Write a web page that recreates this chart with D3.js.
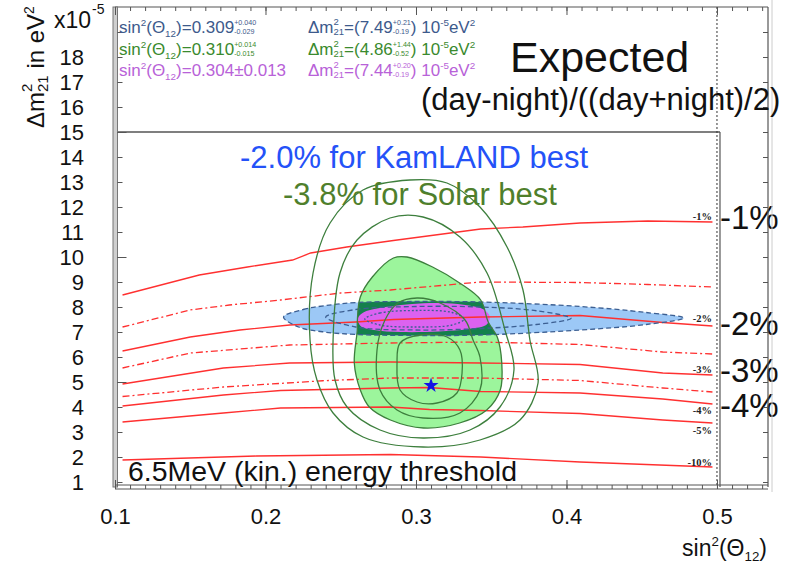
<!DOCTYPE html>
<html>
<head>
<meta charset="utf-8">
<script src="https://cdn.jsdelivr.net/npm/d3@7/dist/d3.min.js"></script>
<style>
html,body{margin:0;padding:0;background:#fff;}
text{font-family:"Liberation Sans",Arial,Helvetica,sans-serif;white-space:pre;}
</style>
</head>
<body>
<svg id="chart" width="807" height="573"></svg>
<script>
// ---------------- values ----------------
const sin2Ticks = [0.1, 0.2, 0.3, 0.4, 0.5];
const dm2Ticks = [1, 2, 3, 4, 5, 6, 7, 8, 9, 10, 11, 12, 13, 14, 15, 16, 17, 18];

// expected day-night asymmetry iso-lines: [sin²θ12, Δm²21 (1e-5 eV²)]
const dnM1  = [[0.105,8.48],[0.156,9.28],[0.188,9.6],[0.218,9.88],[0.23,10.16],[0.254,10.4],[0.285,10.66],[0.343,11.12],[0.371,11.2],[0.409,11.36],[0.454,11.44],[0.497,11.4]];
const dnM15 = [[0.105,7.2],[0.15,7.88],[0.176,8.08],[0.21,8.28],[0.25,8.56],[0.283,8.68],[0.343,9.0],[0.409,8.98],[0.454,8.9],[0.497,8.8]];
const dnM2  = [[0.105,6.24],[0.15,6.8],[0.183,7.08],[0.216,7.28],[0.26,7.4],[0.285,7.5],[0.343,7.6],[0.409,7.66],[0.464,7.38],[0.497,7.24]];
const dnM25 = [[0.105,5.56],[0.15,6.16],[0.216,6.48],[0.283,6.56],[0.343,6.6],[0.409,6.5],[0.464,6.2],[0.497,6.12]];
const dnM3  = [[0.105,4.92],[0.172,5.56],[0.216,5.76],[0.283,5.8],[0.343,5.76],[0.409,5.7],[0.464,5.36],[0.497,5.28]];
const dnM35 = [[0.105,4.42],[0.172,4.8],[0.238,5.05],[0.283,5.16],[0.343,5.16],[0.409,5.06],[0.464,4.76],[0.497,4.6]];
const dnM4  = [[0.105,4.04],[0.172,4.48],[0.21,4.66],[0.283,4.76],[0.309,4.78],[0.343,4.62],[0.409,4.56],[0.464,4.32],[0.497,4.12]];
const dnM5  = [[0.105,3.4],[0.172,3.76],[0.21,3.96],[0.283,4.0],[0.309,3.9],[0.343,3.86],[0.409,3.74],[0.464,3.48],[0.497,3.36]];
const dnM10 = [[0.105,1.88],[0.194,2.04],[0.283,2.1],[0.343,2.0],[0.409,1.8],[0.497,1.6]];

const solidLines  = [dnM1, dnM2, dnM3, dnM4, dnM5, dnM10];
const solidNames  = ["-1%", "-2%", "-3%", "-4%", "-5%", "-10%"];
const solidLabelDm = [11.48, 7.4, 5.36, 3.72, 2.92, 1.64];
const halfLines   = [dnM15, dnM25, dnM35];

// large side labels
const bigNames = ["-1%", "-2%", "-3%", "-4%"];
const bigDm    = [11.12, 6.88, 5.0, 3.6];

// KamLAND allowed region (outer, middle, inner contours)
const kamOuter = [[0.212,7.6],[0.225,7.9],[0.239,8.05],[0.261,8.18],[0.3,8.22],[0.343,8.2],[0.409,8.02],[0.453,7.78],[0.478,7.56],[0.453,7.3],[0.409,7.08],[0.343,6.88],[0.3,6.86],[0.261,6.9],[0.239,7.0],[0.222,7.2]];
const kamMiddle = [[0.24,7.6],[0.26,7.9],[0.3,8.02],[0.343,8.0],[0.38,7.85],[0.403,7.55],[0.38,7.3],[0.343,7.14],[0.3,7.08],[0.26,7.2]];
const kamInner = [[0.266,7.52],[0.276,7.76],[0.3,7.86],[0.324,7.78],[0.332,7.52],[0.324,7.28],[0.3,7.2],[0.276,7.28]];

// solar allowed region (filled) and solar contours
const solarFill = [[0.294,10.0],[0.311,9.6],[0.329,8.96],[0.343,8.28],[0.348,7.4],[0.354,6.8],[0.357,5.76],[0.356,4.68],[0.347,3.88],[0.329,3.36],[0.305,3.16],[0.283,3.48],[0.269,4.0],[0.263,4.68],[0.259,5.76],[0.261,7.08],[0.261,7.4],[0.263,8.4],[0.271,9.2],[0.285,9.96]];
const solarC1 = [[0.2296,6.68],[0.2316,9.36],[0.2429,11.36],[0.2648,12.68],[0.296,13.08],[0.3206,12.96],[0.3425,12.0],[0.3605,10.4],[0.3711,8.68],[0.3757,6.68],[0.3811,4.96],[0.3691,3.48],[0.3425,2.68],[0.3047,2.4],[0.2648,2.8],[0.2449,3.76],[0.2342,5.08]];
const solarC2 = [[0.2449,6.68],[0.2495,9.36],[0.2608,10.68],[0.2827,11.56],[0.3047,11.6],[0.3292,10.8],[0.3472,9.36],[0.3591,7.08],[0.3651,5.48],[0.3558,4.0],[0.3359,3.08],[0.3047,2.76],[0.2761,3.08],[0.2542,4.0],[0.2462,5.08]];
const solarC3 = [[0.3007,8.36],[0.316,8.16],[0.3326,7.48],[0.3379,6.68],[0.3425,6.0],[0.3425,4.68],[0.3292,3.76],[0.3047,3.56],[0.2874,3.88],[0.2761,4.68],[0.2741,6.28],[0.2794,7.48],[0.288,8.16]];
const solarC4 = [[0.3027,6.88],[0.3206,6.8],[0.3292,6.28],[0.3306,5.36],[0.3272,4.56],[0.314,4.16],[0.3007,4.2],[0.2894,4.68],[0.2874,5.76],[0.2894,6.56]];

// combined region
const combined = [[0.2615,7.56],[0.265,7.78],[0.275,7.95],[0.29,8.08],[0.305,8.15],[0.32,8.15],[0.335,8.06],[0.345,7.9],[0.349,7.62],[0.347,7.3],[0.335,7.12],[0.315,7.02],[0.29,7.0],[0.272,7.08],[0.263,7.25]];

// solar best fit point
const solarBest = [0.310, 4.86];

// ---------------- drawing ----------------
const svg = d3.select("#chart");
const x = d3.scaleLinear().domain([0.1, 0.5339]).range([115, 768]);
const y = d3.scaleLinear().domain([0.8, 20]).range([487, 7]);

const defs = svg.append("defs");
defs.append("clipPath").attr("id", "plotClip").append("rect")
  .attr("x", x(0.1)).attr("y", y(15))
  .attr("width", x(0.5) - x(0.1)).attr("height", y(0.8) - y(15));

const closed = d3.line().x(d => x(d[0])).y(d => y(d[1])).curve(d3.curveCatmullRomClosed.alpha(0.5));
const open = d3.line().x(d => x(d[0])).y(d => y(d[1]));

defs.append("clipPath").attr("id", "solarClip").append("path").attr("d", closed(solarFill));

const plot = svg.append("g").attr("clip-path", "url(#plotClip)");

// filled regions
plot.append("path").attr("d", closed(solarFill)).attr("fill", "#9cf59c");
plot.append("path").attr("d", closed(kamOuter)).attr("fill", "#9cc8f6");
plot.append("g").attr("clip-path", "url(#solarClip)")
  .append("path").attr("d", closed(kamOuter)).attr("fill", "#14804c");
plot.append("path").attr("d", closed(combined)).attr("fill", "#dc62f0");

// day-night iso-lines
plot.selectAll("path.solid").data(solidLines).join("path").attr("class", "solid")
  .attr("d", open).attr("fill", "none").attr("stroke", "#ff3030").attr("stroke-width", 1.3);
plot.selectAll("path.half").data(halfLines).join("path").attr("class", "half")
  .attr("d", open).attr("fill", "none").attr("stroke", "#ff3030").attr("stroke-width", 1.3)
  .attr("stroke-dasharray", "7,3,2,3");

// KamLAND dashed contours
plot.selectAll("path.kam").data([kamOuter, kamMiddle, kamInner]).join("path").attr("class", "kam")
  .attr("d", closed).attr("fill", "none").attr("stroke", "#3c5f92").attr("stroke-width", 1.3)
  .attr("stroke-dasharray", (d, i) => i === 2 ? "2,2" : "5,3");

// solar contours
plot.selectAll("path.sol").data([solarFill, solarC1, solarC2, solarC3, solarC4]).join("path").attr("class", "sol")
  .attr("d", closed).attr("fill", "none").attr("stroke", "#3d7f3d").attr("stroke-width", 1.3);

// best-fit star
plot.append("path").attr("d", d3.symbol(d3.symbolStar, 70)())
  .attr("transform", `translate(${x(solarBest[0])},${y(solarBest[1])})`).attr("fill", "#1414e6");

// small iso-line labels
svg.selectAll("text.iso").data(solidNames).join("text").attr("class", "iso")
  .attr("x", x(0.4967)).attr("y", (d, i) => y(solidLabelDm[i]))
  .attr("text-anchor", "end").attr("font-size", 10.5).attr("font-weight", "bold")
  .style("font-family", "'Liberation Serif','Times New Roman',serif").attr("fill", "#222").text(d => d);

// large side labels
svg.selectAll("text.big").data(bigNames).join("text").attr("class", "big")
  .attr("x", x(0.502)).attr("y", (d, i) => y(bigDm[i]))
  .attr("font-size", 33).attr("fill", "#111").text(d => d);

// ---------------- frames and axes ----------------
const frame = svg.append("g");
// outer frame top / right
frame.append("line").attr("x1", x(0.1)).attr("x2", x(0.5339)).attr("y1", y(20)).attr("y2", y(20)).attr("stroke", "#555").attr("stroke-width", 1.2);
frame.append("line").attr("x1", x(0.5339)).attr("x2", x(0.5339)).attr("y1", y(20)).attr("y2", y(0.8)).attr("stroke", "#555").attr("stroke-width", 1.2);
frame.append("line").attr("x1", 772).attr("x2", 772).attr("y1", 0).attr("y2", 492).attr("stroke", "#ccc").attr("stroke-width", 1);
// inner panel
frame.append("line").attr("x1", x(0.1)).attr("x2", x(0.502)).attr("y1", y(15)).attr("y2", y(15)).attr("stroke", "#555").attr("stroke-width", 1.4);
frame.append("line").attr("x1", x(0.502)).attr("x2", x(0.502)).attr("y1", y(15)).attr("y2", y(0.8)).attr("stroke", "#555").attr("stroke-width", 1.2);
frame.append("line").attr("x1", x(0.5)).attr("x2", x(0.5)).attr("y1", y(20)).attr("y2", y(0.8)).attr("stroke", "#333").attr("stroke-width", 1).attr("stroke-dasharray", "2,2");
// left double rule
frame.append("rect").attr("x", 113).attr("y", y(20)).attr("width", 4.5).attr("height", y(0.8) - y(20)).attr("fill", "#cfcfcf").attr("stroke", "#777").attr("stroke-width", 1);

const minorX = d3.range(0.1, 0.5339, 0.01);
const tickStyle = g => { g.selectAll("line").attr("stroke", "#555"); g.select(".domain").remove(); };
// top ticks
frame.append("g").attr("transform", `translate(0,${y(20)})`).call(d3.axisBottom(x).tickValues(minorX).tickSize(4).tickFormat("")).call(tickStyle);
frame.append("g").attr("transform", `translate(0,${y(20)})`).call(d3.axisBottom(x).tickValues(sin2Ticks).tickSize(8).tickFormat("")).call(tickStyle);
// bottom ladder
frame.append("line").attr("x1", x(0.1)).attr("x2", x(0.5339)).attr("y1", 485).attr("y2", 485).attr("stroke", "#555");
frame.append("line").attr("x1", x(0.1)).attr("x2", x(0.5339)).attr("y1", 489).attr("y2", 489).attr("stroke", "#555");
frame.append("g").attr("transform", "translate(0,489)").call(d3.axisTop(x).tickValues(minorX).tickSize(4).tickFormat("")).call(tickStyle);
frame.append("g").attr("transform", "translate(0,489)").call(d3.axisTop(x).tickValues(sin2Ticks).tickSize(9).tickFormat("")).call(tickStyle);
// left / right ticks
const allDm = d3.range(1, 20);
frame.append("g").attr("transform", "translate(117.5,0)").call(d3.axisRight(y).tickValues(allDm).tickSize(5).tickFormat("")).call(tickStyle);
frame.append("g").attr("transform", "translate(117.5,0)").call(d3.axisRight(y).tickValues([5, 10, 15]).tickSize(9).tickFormat("")).call(tickStyle);
frame.append("g").attr("transform", `translate(${x(0.5339)},0)`).call(d3.axisLeft(y).tickValues(allDm).tickSize(5).tickFormat("")).call(tickStyle);

// tick labels
const yLab = svg.append("g").attr("transform", "translate(84,0)")
  .call(d3.axisLeft(y).tickValues(dm2Ticks).tickSize(0).tickPadding(0).tickFormat(d3.format("d")));
yLab.select(".domain").remove();
yLab.selectAll("text").attr("font-size", 22).attr("fill", "#111").style("font-family", "'Liberation Sans',Arial,sans-serif").attr("dy", "0.36em");

const xLab = svg.append("g").attr("transform", "translate(0,508)")
  .call(d3.axisBottom(x).tickValues(sin2Ticks).tickSize(0).tickPadding(0).tickFormat(d3.format(".1f")));
xLab.select(".domain").remove();
xLab.selectAll("text").attr("font-size", 22).attr("fill", "#111").style("font-family", "'Liberation Sans',Arial,sans-serif");

// ---------------- rich text helper ----------------
function rich(parent, x0, y0, size, color, segs, rot) {
  const g = parent.append("g").attr("transform", `translate(${x0},${y0})` + (rot ? ` rotate(${rot})` : "")).attr("fill", color);
  let cx = 0;
  const put = (txt, dy, fs) => {
    const t = g.append("text").attr("x", cx).attr("y", dy).attr("font-size", fs).text(txt);
    return t.node().getComputedTextLength();
  };
  for (const s of segs) {
    if (typeof s === "string") { cx += put(s, 0, size); }
    else if (s.hi !== undefined) {
      const fs = s.fs || size * 0.42;
      const a = put(s.hi, s.hiDy !== undefined ? s.hiDy : -size * 0.45, fs);
      const b = put(s.lo, s.loDy !== undefined ? s.loDy : size * 0.05, fs);
      cx += Math.max(a, b);
    }
    else if (s.sup !== undefined) { cx += put(s.sup, -size * 0.42, size * 0.58); }
    else if (s.sub !== undefined) { cx += put(s.sub, size * 0.22, size * 0.58); }
  }
  return g;
}

// legend block
const cBlue = "#3d5a8c", cGreen = "#3a8a2e", cPurple = "#b862d8";
rich(svg, 119, 33, 17, cBlue,   ["sin", {sup: "2"}, "(Θ", {sub: "12"}, ")=0.309", {hi: "+0.040", lo: "-0.029"}]);
rich(svg, 119, 55, 17, cGreen,  ["sin", {sup: "2"}, "(Θ", {sub: "12"}, ")=0.310", {hi: "+0.014", lo: "-0.015"}]);
rich(svg, 119, 76, 17, cPurple, ["sin", {sup: "2"}, "(Θ", {sub: "12"}, ")=0.304±0.013"]);
const dmHead = {hi: "2", lo: "21", fs: 9.5, hiDy: -8, loDy: 2};
rich(svg, 308, 33, 17, cBlue,   ["Δm", dmHead, "=(7.49", {hi: "+0.21", lo: "-0.19"}, ") 10", {sup: "-5"}, "eV", {sup: "2"}]);
rich(svg, 308, 55, 17, cGreen,  ["Δm", dmHead, "=(4.86", {hi: "+1.44", lo: "-0.52"}, ") 10", {sup: "-5"}, "eV", {sup: "2"}]);
rich(svg, 308, 76, 17, cPurple, ["Δm", dmHead, "=(7.44", {hi: "+0.20", lo: "-0.19"}, ") 10", {sup: "-5"}, "eV", {sup: "2"}]);

// titles
svg.append("text").attr("x", 510).attr("y", 72).attr("font-size", 43).attr("fill", "#111").text("Expected");
svg.append("text").attr("x", 421).attr("y", 110).attr("font-size", 31).attr("fill", "#111").text("(day-night)/((day+night)/2)");
svg.append("text").attr("x", 240).attr("y", 168).attr("font-size", 31).attr("fill", "#2452f8").text("-2.0% for KamLAND best");
svg.append("text").attr("x", 283).attr("y", 205).attr("font-size", 31).attr("fill", "#4f7f2c").text("-3.8% for Solar best");
svg.append("text").attr("x", 128).attr("y", 481).attr("font-size", 27.5).attr("fill", "#111")
  .attr("textLength", 389).attr("lengthAdjust", "spacingAndGlyphs").text("6.5MeV (kin.) energy threshold");

// axis titles
rich(svg, 44, 128, 24, "#111", ["Δm", {hi: "2", lo: "21", fs: 15, hiDy: -12, loDy: 4}, " in eV", {sup: "2"}], -90);
rich(svg, 54, 28, 23, "#111", ["x10"]);
svg.append("text").attr("x", 92).attr("y", 14).attr("font-size", 14).attr("fill", "#111").text("-5");
const xt = rich(svg, 0, 556, 23, "#111", ["sin", {sup: "2"}, "(Θ", {sub: "12"}, ")"]);
const xtw = xt.node().getBBox().width;
xt.attr("transform", `translate(${767 - xtw},556)`);
</script>
</body>
</html>
